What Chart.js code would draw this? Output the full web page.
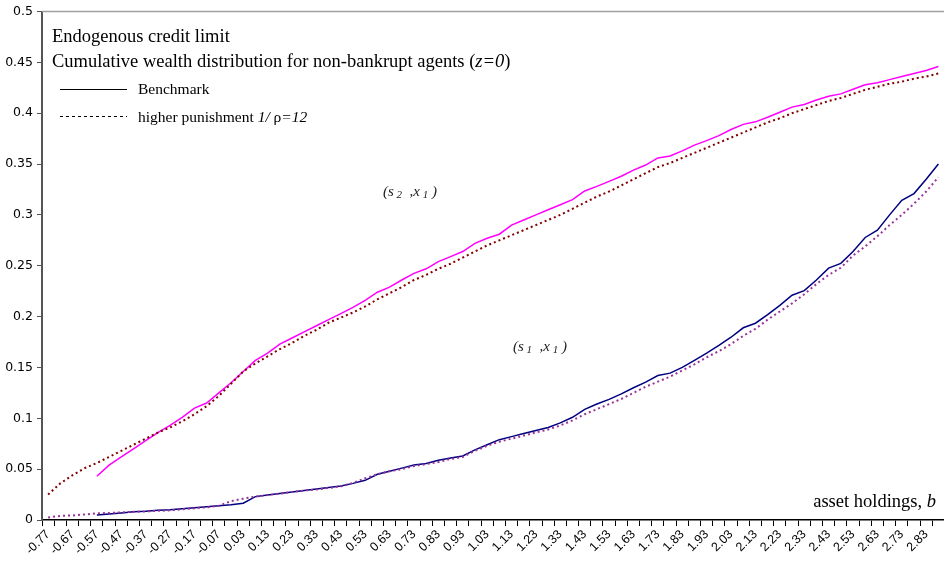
<!DOCTYPE html>
<html>
<head>
<meta charset="utf-8">
<script src="https://cdn.jsdelivr.net/npm/chart.js@4.4.1/dist/chart.umd.min.js"></script>
<style>
  html, body { margin: 0; padding: 0; background: #fff; overflow: hidden; }
  #wrap { width: 950px; height: 567px; }
</style>
</head>
<body>
<div id="wrap"><canvas id="c" width="950" height="567"></canvas></div>
<script>
// asset holdings b (categories, step 0.05)
var categories = [-0.77,-0.72,-0.67,-0.62,-0.57,-0.52,-0.47,-0.42,-0.37,-0.32,-0.27,-0.22,-0.17,-0.12,-0.07,-0.02,
  0.03,0.08,0.13,0.18,0.23,0.28,0.33,0.38,0.43,0.48,0.53,0.58,0.63,0.68,0.73,0.78,0.83,0.88,0.93,0.98,
  1.03,1.08,1.13,1.18,1.23,1.28,1.33,1.38,1.43,1.48,1.53,1.58,1.63,1.68,1.73,1.78,1.83,1.88,1.93,1.98,
  2.03,2.08,2.13,2.18,2.23,2.28,2.33,2.38,2.43,2.48,2.53,2.58,2.63,2.68,2.73,2.78,2.83,2.88];

// benchmark, (s2,x1)
var benchS2 = [null,null,null,null,0.043,0.054,0.062,0.070,0.078,0.086,0.093,0.101,0.110,0.115,0.125,0.135,
  0.146,0.157,0.164,0.173,0.179,0.185,0.191,0.197,0.203,0.209,0.216,0.224,0.229,0.236,0.2425,0.247,0.254,0.259,
  0.264,0.272,0.277,0.281,0.290,0.295,0.300,0.305,0.310,0.315,0.3235,0.328,0.333,0.338,0.344,0.349,0.356,0.358,
  0.363,0.3686,0.373,0.378,0.384,0.389,0.3915,0.396,0.401,0.406,0.4085,0.413,0.4167,0.419,0.4235,0.428,0.430,
  0.433,0.436,0.439,0.442,0.446];

// higher punishment, (s2,x1)
var punS2 = [0.025,0.036,0.044,0.051,0.056,0.062,0.068,0.074,0.080,0.086,0.091,0.097,0.104,0.112,0.122,0.134,
  0.146,0.154,0.161,0.168,0.174,0.181,0.187,0.194,0.199,0.204,0.210,0.217,0.223,0.229,0.236,0.241,0.247,0.252,
  0.258,0.264,0.270,0.275,0.280,0.285,0.290,0.295,0.300,0.306,0.312,0.318,0.323,0.329,0.335,0.341,0.347,0.351,
  0.356,0.361,0.366,0.371,0.376,0.381,0.386,0.391,0.395,0.400,0.404,0.408,0.412,0.415,0.419,0.423,0.426,0.429,
  0.431,0.434,0.436,0.439];

// benchmark, (s1,x1)
var benchS1 = [null,null,null,null,0.005,0.006,0.007,0.008,0.0085,0.0095,0.010,0.011,0.012,0.013,0.014,0.015,
  0.0165,0.023,0.0245,0.026,0.0275,0.029,0.0305,0.032,0.0335,0.036,0.039,0.045,0.048,0.051,0.054,0.0556,0.0588,
  0.061,0.063,0.069,0.074,0.079,0.082,0.085,0.088,0.091,0.0955,0.101,0.1088,0.114,0.1186,0.124,0.130,0.1356,
  0.142,0.1444,0.150,0.157,0.164,0.1716,0.1797,0.189,0.1935,0.202,0.211,0.221,0.2255,0.236,0.2477,0.2523,0.264,
  0.2778,0.285,0.300,0.3144,0.321,0.335,0.350];

// higher punishment, (s1,x1)
var punS1 = [0.0025,0.004,0.0045,0.0055,0.0065,0.007,0.0075,0.008,0.0085,0.009,0.0095,0.0105,0.0115,0.0125,0.014,
  0.0185,0.021,0.023,0.0245,0.026,0.0275,0.029,0.030,0.0315,0.033,0.0365,0.041,0.045,0.048,0.050,0.053,0.055,
  0.057,0.060,0.062,0.068,0.073,0.077,0.080,0.083,0.086,0.089,0.093,0.098,0.104,0.109,0.114,0.119,0.125,0.131,
  0.136,0.141,0.147,0.153,0.160,0.166,0.173,0.181,0.188,0.197,0.205,0.213,0.222,0.232,0.241,0.248,0.260,0.269,
  0.279,0.290,0.300,0.311,0.323,0.337];

var SERIF = '"Liberation Serif", "Times New Roman", serif';
var SANS = '"Liberation Sans", Arial, sans-serif';

// draws a row of text pieces, some italic / subscript
function richText(ctx, x, y, parts, size, color) {
  ctx.save();
  ctx.fillStyle = color || '#000';
  ctx.textBaseline = 'alphabetic';
  ctx.textAlign = 'left';
  parts.forEach(function (p) {
    var s = p.size || size;
    ctx.font = (p.i ? 'italic ' : '') + s + 'px ' + SERIF;
    ctx.fillText(p.t, x, y + (p.dy || 0));
    x += ctx.measureText(p.t).width;
  });
  ctx.restore();
}

var decor = {
  id: 'decor',
  afterDraw: function (chart) {
    var ctx = chart.ctx, a = chart.chartArea;
    ctx.save();
    // top edge of plot
    ctx.strokeStyle = '#a0a0a0';
    ctx.lineWidth = 1.5;
    ctx.beginPath();
    ctx.moveTo(a.left, a.top);
    ctx.lineTo(a.right, a.top);
    ctx.stroke();

    // legend
    ctx.strokeStyle = '#000';
    ctx.lineWidth = 1;
    ctx.beginPath();
    ctx.moveTo(60, 89.5); ctx.lineTo(127, 89.5);
    ctx.stroke();
    ctx.setLineDash([3, 3]);
    ctx.beginPath();
    ctx.moveTo(60, 116.5); ctx.lineTo(127, 116.5);
    ctx.stroke();
    ctx.restore();

    richText(ctx, 52, 42, [{t: 'Endogenous credit limit'}], 18.5);
    richText(ctx, 52, 67, [{t: 'Cumulative wealth distribution for non-bankrupt agents ('},
      {t: 'z=0', i: true}, {t: ')'}], 18.5);
    richText(ctx, 138, 94, [{t: 'Benchmark'}], 15.5);
    richText(ctx, 138, 122, [{t: 'higher punishment '}, {t: '1/', i: true}, {t: ' \u03c1'},
      {t: '=12', i: true}], 15.5);

    richText(ctx, 383, 196, [{t: '(s', i: true}, {t: ' 2', i: true, size: 11, dy: 2},
      {t: '  ,x', i: true}, {t: ' 1', i: true, size: 11, dy: 2}, {t: ' )', i: true}], 15, '#222');
    richText(ctx, 513, 351, [{t: '(s', i: true}, {t: ' 1', i: true, size: 11, dy: 2},
      {t: '  ,x', i: true}, {t: ' 1', i: true, size: 11, dy: 2}, {t: ' )', i: true}], 15, '#222');

    ctx.save();
    ctx.font = '18.5px ' + SERIF;
    var w1 = ctx.measureText('asset holdings, ').width;
    ctx.font = 'italic 18.5px ' + SERIF;
    var w2 = ctx.measureText('b').width;
    ctx.restore();
    richText(ctx, 936 - w1 - w2, 507, [{t: 'asset holdings, '}, {t: 'b', i: true}], 18.5);
  }
};

new Chart(document.getElementById('c'), {
  type: 'line',
  data: {
    labels: categories,
    datasets: [
      {data: punS2, borderColor: '#800000', borderWidth: 2, borderDash: [2, 3]},
      {data: benchS2, borderColor: '#ff00ff', borderWidth: 1.5},
      {data: punS1, borderColor: '#993399', borderWidth: 2, borderDash: [2, 3]},
      {data: benchS1, borderColor: '#000080', borderWidth: 1.5}
    ]
  },
  options: {
    responsive: false,
    animation: false,
    devicePixelRatio: 1,
    elements: { point: { radius: 0 }, line: { tension: 0 } },
    layout: { padding: { top: 8, right: 2, left: 0, bottom: 0 } },
    plugins: { legend: { display: false }, tooltip: { enabled: false } },
    scales: {
      x: {
        type: 'category',
        offset: true,
        grid: { offset: true, drawOnChartArea: false, tickLength: 6, color: '#000' },
        border: { color: '#000', width: 1.5 },
        ticks: {
          autoSkip: false, maxRotation: 45, minRotation: 45, padding: 1,
          color: '#000', font: { family: SANS, size: 12.5 },
          callback: function (v, i) { return i % 2 === 0 ? String(categories[i]) : ''; }
        },
        afterFit: function (s) { s.height = 47; }
      },
      y: {
        min: 0, max: 0.5,
        grid: { drawOnChartArea: false, tickLength: 5, color: '#555' },
        border: { color: '#555', width: 2 },
        ticks: {
          stepSize: 0.05, padding: 4, color: '#000',
          font: { family: '"DejaVu Sans", sans-serif', size: 12.5 },
          callback: function (v) { return String(Math.round(v * 100) / 100); }
        },
        afterFit: function (s) { s.width = 42; }
      }
    }
  },
  plugins: [decor]
});
</script>
</body>
</html>
